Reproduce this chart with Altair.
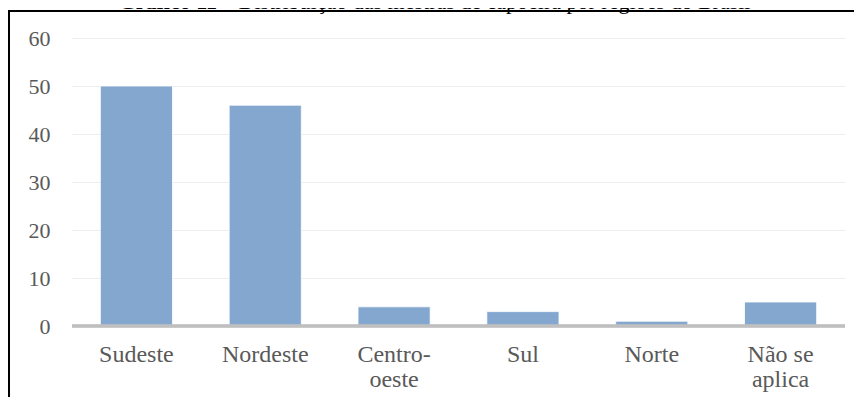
import altair as alt
import pandas as pd

categories = ["Sudeste", "Nordeste", "Centro-oeste", "Sul", "Norte", "Não se aplica"]
values = [50, 46, 4, 3, 1, 5]
y_ticks = [0, 10, 20, 30, 40, 50, 60]
title_bold = "Gráfico 11"
title_rest = "– Distribuição das mestras de capoeira por regiões do Brasil"

df = pd.DataFrame({"regiao": categories, "n": values})

W, H = 773, 288
FONT = "'Times New Roman', 'Liberation Serif', 'DejaVu Serif', serif"

label_expr = ("datum.label == 'Centro-oeste' ? ['Centro-', 'oeste'] : "
              "datum.label == 'Não se aplica' ? ['Não se', 'aplica'] : datum.label")

base = alt.Chart(df)

bars = base.mark_bar(color="#84A7D0", stroke="#FFFFFF", strokeWidth=0.8).encode(
    x=alt.X("regiao:N", sort=categories,
            scale=alt.Scale(paddingInner=0.44, paddingOuter=0.22),
            axis=alt.Axis(title=None, labelExpr=label_expr, labelAngle=0,
                          labelFont=FONT, labelFontSize=24, labelColor="#595959",
                          labelPadding=16, labelLineHeight=25, labelBaseline="top",
                          domain=False, ticks=False, grid=False)),
    y=alt.Y("n:Q", scale=alt.Scale(domain=[0, 60], nice=False),
            axis=alt.Axis(title=None, values=y_ticks, labelFont=FONT,
                          labelFontSize=22, labelColor="#595959", labelPadding=22,
                          domain=False, ticks=False, grid=True,
                          gridColor="#EDEDED", gridWidth=1.2)),
)

baseline = base.mark_rule(color="#BFBFBF", strokeWidth=2.5).encode(
    x=alt.value(0), x2=alt.value(W), y=alt.datum(0)
)

border = base.mark_rect(fill=None, stroke="#000000", strokeWidth=1.6, filled=False).encode(
    x=alt.value(-63), x2=alt.value(W + 60), y=alt.value(-27), y2=alt.value(H + 120)
)

t1 = alt.Chart(pd.DataFrame({"t": [title_bold]})).mark_text(
    font=FONT, fontSize=22, fontWeight="bold", align="right", baseline="alphabetic",
    color="#000000"
).encode(text="t:N", x=alt.value(145), y=alt.value(-29))

t2 = alt.Chart(pd.DataFrame({"t": [title_rest]})).mark_text(
    font=FONT, fontSize=22, align="left", baseline="alphabetic", color="#000000"
).encode(text="t:N", x=alt.value(150), y=alt.value(-29))

chart = alt.layer(bars, baseline, border, t1, t2).properties(
    width=W, height=H,
    padding={"left": 64, "top": 30, "right": 9, "bottom": 71},
    autosize=alt.AutoSizeParams(type="none"),
    background="#FFFFFF",
).configure_view(stroke=None)

chart.save("out.html", embed_options={"renderer": "svg", "actions": False})
